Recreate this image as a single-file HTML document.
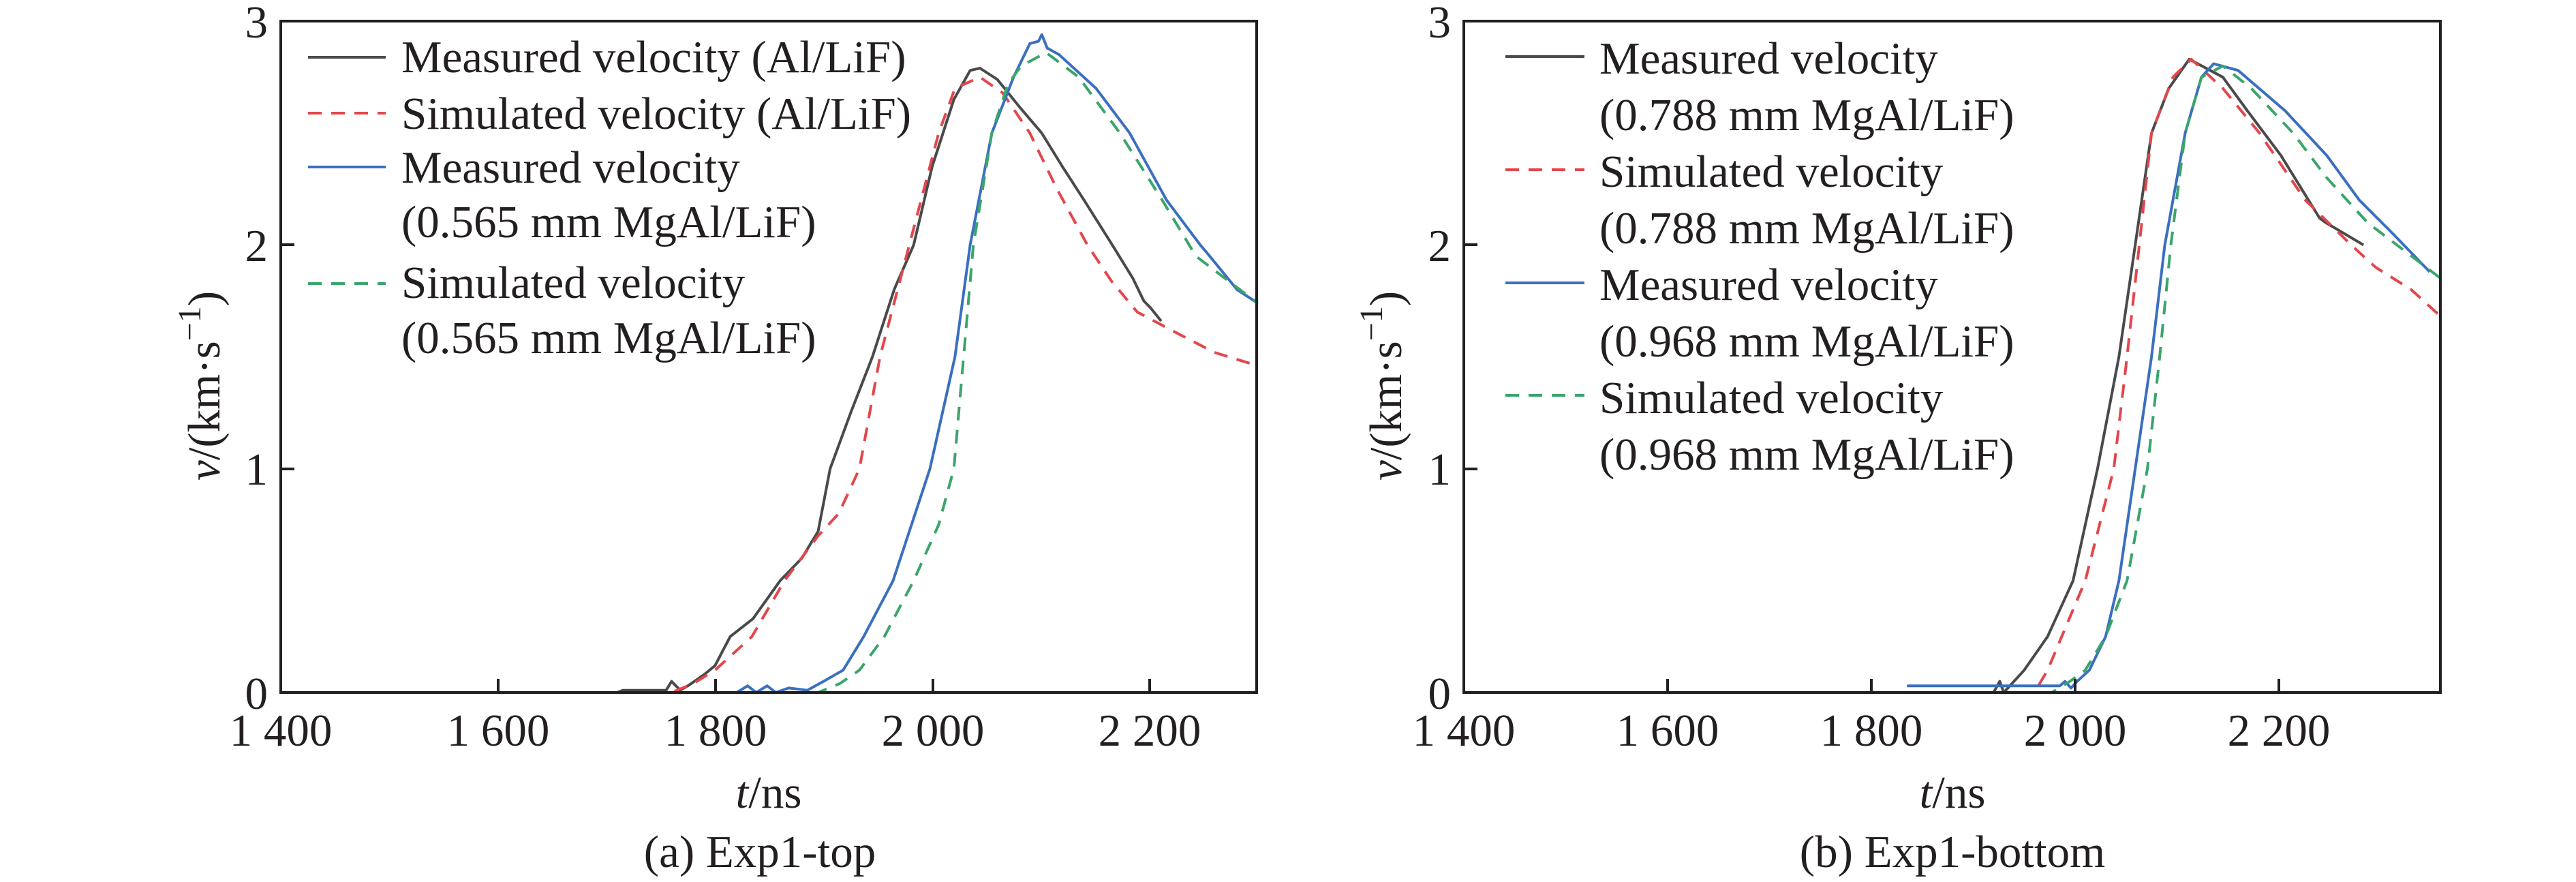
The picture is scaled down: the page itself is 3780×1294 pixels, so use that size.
<!DOCTYPE html>
<html><head><meta charset="utf-8"><style>
html,body{margin:0;padding:0;background:#fff;}
svg{display:block;}
text{font-family:"Liberation Serif","Times New Roman",Times,"DejaVu Serif","Noto Serif CJK SC",serif;font-size:67px;fill:#231f20;}
</style></head><body>
<svg id="s" width="3780" height="1294" viewBox="0 0 3780 1294" xmlns="http://www.w3.org/2000/svg" font-family="Liberation Serif, Times New Roman, DejaVu Serif, serif">
<g id="curves"></g>
<rect x="412" y="31" width="1432" height="985" fill="none" stroke="#231f20" stroke-width="4"/>
<g stroke="#231f20" stroke-width="4">
<line x1="731" y1="1016" x2="731" y2="996"/><line x1="1050" y1="1016" x2="1050" y2="996"/><line x1="1369" y1="1016" x2="1369" y2="996"/><line x1="1687" y1="1016" x2="1687" y2="996"/>
<line x1="412" y1="359" x2="432" y2="359"/><line x1="412" y1="688" x2="432" y2="688"/>
</g>
<g text-anchor="middle">
<text x="412" y="1094">1 400</text><text x="731" y="1094">1 600</text><text x="1050" y="1094">1 800</text><text x="1369" y="1094">2 000</text><text x="1687" y="1094">2 200</text>
</g>
<g text-anchor="end">
<text x="393" y="1040">0</text><text x="393" y="711">1</text><text x="393" y="383">2</text><text x="393" y="55">3</text>
</g>
<text x="1128" y="1185" text-anchor="middle"><tspan font-style="italic">t</tspan>/ns</text>
<text x="1115" y="1272" text-anchor="middle">(a) Exp1-top</text>
<text transform="translate(322,566) rotate(-90)" text-anchor="middle" font-size="74"><tspan font-style="italic">v</tspan>/(km·s<tspan font-size="48" dy="-28">−1</tspan><tspan dy="28">)</tspan></text>
<g stroke-width="4">
<line x1="452" y1="84" x2="566" y2="84" stroke="#4a4a4a"/>
<line x1="452" y1="166" x2="566" y2="166" stroke="#e2474c" stroke-dasharray="20,14"/>
<line x1="452" y1="245" x2="566" y2="245" stroke="#3b6fbf"/>
<line x1="452" y1="416" x2="566" y2="416" stroke="#3aa56b" stroke-dasharray="20,14"/>
</g>
<text x="589" y="106">Measured velocity (Al/LiF)</text>
<text x="589" y="189">Simulated velocity (Al/LiF)</text>
<text x="589" y="268">Measured velocity</text>
<text x="589" y="348">(0.565 mm MgAl/LiF)</text>
<text x="589" y="437">Simulated velocity</text>
<text x="589" y="518">(0.565 mm MgAl/LiF)</text>
<rect x="2148" y="31" width="1433" height="985" fill="none" stroke="#231f20" stroke-width="4"/>
<g stroke="#231f20" stroke-width="4">
<line x1="2447" y1="1016" x2="2447" y2="996"/><line x1="2746" y1="1016" x2="2746" y2="996"/><line x1="3045" y1="1016" x2="3045" y2="996"/><line x1="3344" y1="1016" x2="3344" y2="996"/>
<line x1="2148" y1="359" x2="2168" y2="359"/><line x1="2148" y1="688" x2="2168" y2="688"/>
</g>
<g text-anchor="middle">
<text x="2148" y="1094">1 400</text><text x="2447" y="1094">1 600</text><text x="2746" y="1094">1 800</text><text x="3045" y="1094">2 000</text><text x="3344" y="1094">2 200</text>
</g>
<g text-anchor="end">
<text x="2129" y="1040">0</text><text x="2129" y="711">1</text><text x="2129" y="383">2</text><text x="2129" y="55">3</text>
</g>
<text x="2865" y="1185" text-anchor="middle"><tspan font-style="italic">t</tspan>/ns</text>
<text x="2865" y="1272" text-anchor="middle">(b) Exp1-bottom</text>
<text transform="translate(2056,566) rotate(-90)" text-anchor="middle" font-size="74"><tspan font-style="italic">v</tspan>/(km·s<tspan font-size="48" dy="-28">−1</tspan><tspan dy="28">)</tspan></text>
<g stroke-width="4">
<line x1="2209" y1="83" x2="2325" y2="83" stroke="#4a4a4a"/>
<line x1="2209" y1="249" x2="2325" y2="249" stroke="#e2474c" stroke-dasharray="20,14"/>
<line x1="2209" y1="415" x2="2325" y2="415" stroke="#3b6fbf"/>
<line x1="2209" y1="580" x2="2325" y2="580" stroke="#3aa56b" stroke-dasharray="20,14"/>
</g>
<text x="2347" y="108">Measured velocity</text>
<text x="2347" y="191">(0.788 mm MgAl/LiF)</text>
<text x="2347" y="274">Simulated velocity</text>
<text x="2347" y="357">(0.788 mm MgAl/LiF)</text>
<text x="2347" y="440">Measured velocity</text>
<text x="2347" y="523">(0.968 mm MgAl/LiF)</text>
<text x="2347" y="606">Simulated velocity</text>
<text x="2347" y="689">(0.968 mm MgAl/LiF)</text>
</svg>
<script>
var g=document.getElementById('curves');
function L(t){return 412+(t-1400)*1.593;}
function R(t){return 2148+(t-1400)*1.495;}
function Y(v){return 1016-v*328.3;}
function draw(fx,pts,col,dash){
 var d='';for(var i=0;i<pts.length;i++){d+=(i?'L':'M')+fx(pts[i][0]).toFixed(1)+' '+Y(pts[i][1]).toFixed(1);}
 var p=document.createElementNS('http://www.w3.org/2000/svg','path');
 p.setAttribute('d',d);p.setAttribute('fill','none');p.setAttribute('stroke',col);p.setAttribute('stroke-width','4');
 p.setAttribute('stroke-linejoin','round');
 if(dash)p.setAttribute('stroke-dasharray','20,14');g.appendChild(p);}
var K='#4a4a4a',Rd='#e2474c',B='#3b6fbf',G='#3aa56b';
draw(L,[[1400,0],[1710,0],[1715,0.01],[1755,0.01],[1760,0.05],[1768,0.01],[1775,0.03],[1790,0.08],[1800,0.12],[1814,0.25],[1835,0.33],[1860,0.5],[1880,0.6],[1895,0.72],[1906,1.0],[1925,1.25],[1945,1.5],[1965,1.8],[1983,2.0],[2000,2.35],[2020,2.65],[2035,2.78],[2044,2.79],[2060,2.74],[2080,2.62],[2101,2.5],[2120,2.35],[2140,2.2],[2166,2.0],[2185,1.85],[2195,1.75],[2201,1.72],[2211,1.66]],K);
draw(L,[[1400,0],[1760,0],[1780,0.04],[1800,0.1],[1834,0.25],[1864,0.5],[1895,0.7],[1914,0.8],[1933,1.0],[1952,1.5],[1979,2.0],[2006,2.5],[2021,2.7],[2044,2.75],[2065,2.68],[2090,2.5],[2115,2.25],[2143,2.0],[2165,1.84],[2189,1.7],[2228,1.6],[2260,1.52],[2300,1.46]],Rd,1);
draw(L,[[1400,0],[1820,0],[1830,0.03],[1838,0],[1848,0.03],[1856,0],[1868,0.02],[1885,0.01],[1900,0.05],[1918,0.1],[1937,0.25],[1964,0.5],[1998,1.0],[2021,1.5],[2035,2.0],[2055,2.5],[2075,2.75],[2090,2.9],[2098,2.91],[2101,2.94],[2106,2.88],[2117,2.85],[2151,2.7],[2182,2.5],[2216,2.2],[2247,2.0],[2254,1.96],[2281,1.8],[2300,1.74]],B);
draw(L,[[1400,0],[1895,0],[1915,0.04],[1933,0.1],[1956,0.25],[1983,0.5],[2006,0.75],[2020,1.0],[2029,1.5],[2038,2.0],[2055,2.5],[2070,2.72],[2082,2.8],[2105,2.86],[2135,2.75],[2173,2.5],[2212,2.2],[2243,1.95],[2270,1.85],[2300,1.74]],G,1);
draw(R,[[1400,0],[1920,0],[1926,0.05],[1930,0.0],[1940,0.05],[1950,0.1],[1973,0.25],[1998,0.5],[2022,1.0],[2043,1.5],[2059,2.0],[2075,2.5],[2092,2.7],[2112,2.83],[2145,2.75],[2169,2.6],[2202,2.4],[2240,2.12],[2246,2.1],[2283,2.0]],K);
draw(R,[[1400,0],[1960,0],[1973,0.1],[2010,0.5],[2038,1.0],[2051,1.5],[2063,2.0],[2075,2.5],[2096,2.75],[2114,2.83],[2145,2.7],[2181,2.5],[2226,2.2],[2271,2.0],[2295,1.9],[2330,1.8],[2359,1.68]],Rd,1);
draw(R,[[1835,0.03],[1985,0.03],[1990,0.05],[1996,0.02],[2002,0.05],[2014,0.1],[2030,0.25],[2043,0.5],[2059,1.0],[2075,1.5],[2088,2.0],[2108,2.5],[2124,2.75],[2136,2.81],[2160,2.78],[2206,2.6],[2247,2.4],[2279,2.2],[2312,2.05],[2348,1.88]],B);
draw(R,[[1400,0],[1977,0],[1995,0.05],[2010,0.1],[2030,0.25],[2051,0.5],[2071,1.0],[2083,1.5],[2094,2.0],[2108,2.5],[2124,2.75],[2145,2.8],[2173,2.7],[2214,2.5],[2247,2.3],[2287,2.1],[2359,1.85]],G,1);
</script>
</body></html>
